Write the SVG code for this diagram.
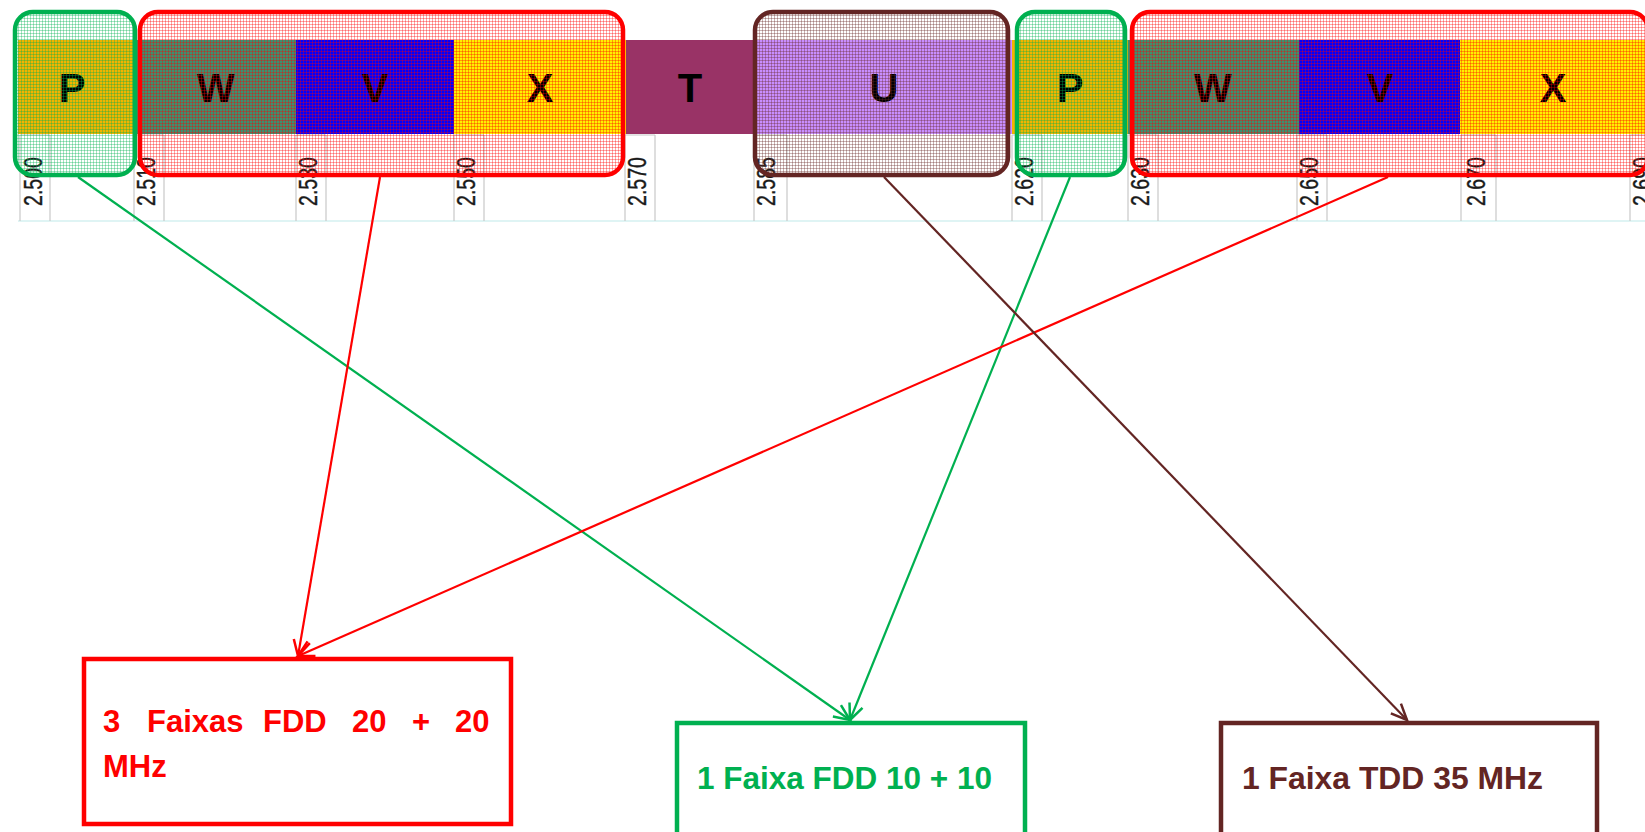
<svg xmlns="http://www.w3.org/2000/svg" width="1645" height="832" viewBox="0 0 1645 832">
<style>
.tick{stroke:#c8c8c8;stroke-width:1.2;fill:none}
.tl{font-family:"Liberation Sans",Arial,sans-serif;font-size:25px;fill:#1a1a1a;stroke:#1a1a1a;stroke-width:0.4}
.big{font-family:"Liberation Sans",Arial,sans-serif;font-size:40px;font-weight:bold;text-anchor:middle;fill:#000}
.lbl{font-family:"Liberation Sans",Arial,sans-serif;font-size:31px;font-weight:bold}
.cn{fill:none;stroke-width:2.2}
</style>
<defs>
<pattern id="hr" width="3" height="3" patternUnits="userSpaceOnUse"><path d="M0 0.5H3M0.5 0V3" stroke="#ff0000" stroke-opacity="0.35"/></pattern>
<pattern id="hg" width="3" height="3" patternUnits="userSpaceOnUse"><path d="M0 0.5H3M0.5 0V3" stroke="#00b050" stroke-opacity="0.35"/></pattern>
<pattern id="hb" width="3" height="3" patternUnits="userSpaceOnUse"><path d="M0 0.5H3M0.5 0V3" stroke="#632523" stroke-opacity="0.35"/></pattern>
<marker id="ar" markerUnits="userSpaceOnUse" markerWidth="24" markerHeight="24" viewBox="-18 -12 24 24" refX="0" refY="0" orient="auto"><path d="M-16,-7 L0,0 L-16,7" fill="none" stroke="#ff0000" stroke-width="2.5"/></marker>
<marker id="ag" markerUnits="userSpaceOnUse" markerWidth="24" markerHeight="24" viewBox="-18 -12 24 24" refX="0" refY="0" orient="auto"><path d="M-16,-7 L0,0 L-16,7" fill="none" stroke="#00b050" stroke-width="2.5"/></marker>
<marker id="ab" markerUnits="userSpaceOnUse" markerWidth="24" markerHeight="24" viewBox="-18 -12 24 24" refX="0" refY="0" orient="auto"><path d="M-16,-7 L0,0 L-16,7" fill="none" stroke="#632523" stroke-width="2.5"/></marker>
</defs>
<rect width="1645" height="832" fill="#fff"/>
<g id="scale">
<line x1="18" y1="221" x2="1645" y2="221" stroke="#dff4f4" stroke-width="2"/>
<path class="tick" d="M20 135V221M50 135V221M20 135H50 M134 135V221M164 135V221M134 135H164 M296 135V221M326 135V221M296 135H326 M454 135V221M484 135V221M454 135H484 M625 135V221M655 135V221M625 135H655 M754 135V221M787 135V221M754 135H787 M1012 135V221M1042 135V221M1012 135H1042 M1128 135V221M1158 135V221M1128 135H1158 M1297 135V221M1327 135V221M1297 135H1327 M1461 135V221M1496 135V221M1461 135H1496 M1630 135V221M1645 135H1630"/>
<text class="tl" transform="translate(42,206) rotate(-90)" textLength="49" lengthAdjust="spacingAndGlyphs">2.500</text>
<text class="tl" transform="translate(155,206) rotate(-90)" textLength="49" lengthAdjust="spacingAndGlyphs">2.510</text>
<text class="tl" transform="translate(317,206) rotate(-90)" textLength="49" lengthAdjust="spacingAndGlyphs">2.530</text>
<text class="tl" transform="translate(475,206) rotate(-90)" textLength="49" lengthAdjust="spacingAndGlyphs">2.550</text>
<text class="tl" transform="translate(646,206) rotate(-90)" textLength="49" lengthAdjust="spacingAndGlyphs">2.570</text>
<text class="tl" transform="translate(775,206) rotate(-90)" textLength="49" lengthAdjust="spacingAndGlyphs">2.585</text>
<text class="tl" transform="translate(1033,206) rotate(-90)" textLength="49" lengthAdjust="spacingAndGlyphs">2.620</text>
<text class="tl" transform="translate(1149,206) rotate(-90)" textLength="49" lengthAdjust="spacingAndGlyphs">2.630</text>
<text class="tl" transform="translate(1318,206) rotate(-90)" textLength="49" lengthAdjust="spacingAndGlyphs">2.650</text>
<text class="tl" transform="translate(1485,206) rotate(-90)" textLength="49" lengthAdjust="spacingAndGlyphs">2.670</text>
<text class="tl" transform="translate(1651,206) rotate(-90)" textLength="49" lengthAdjust="spacingAndGlyphs">2.690</text>
</g>
<g id="band">
<rect x="18" y="40" width="119" height="94" fill="#f2b400"/>
<rect x="137" y="40" width="159" height="94" fill="#3c9070"/>
<rect x="296" y="40" width="158" height="94" fill="#0000ff"/>
<rect x="454" y="40" width="172" height="94" fill="#fff000"/>
<rect x="626" y="40" width="129" height="94" fill="#993366"/>
<rect x="755" y="40" width="257" height="94" fill="#c88eff"/>
<rect x="1012" y="40" width="116" height="94" fill="#f2b400"/>
<rect x="1128" y="40" width="171" height="94" fill="#3c9070"/>
<rect x="1299" y="40" width="161" height="94" fill="#0000ff"/>
<rect x="1460" y="40" width="185" height="94" fill="#fff000"/>
<text class="big" x="72" y="102">P</text>
<text class="big" x="216" y="102">W</text>
<text class="big" x="375" y="102">V</text>
<text class="big" x="540" y="102">X</text>
<text class="big" x="690" y="102">T</text>
<text class="big" x="884" y="102">U</text>
<text class="big" x="1070" y="102">P</text>
<text class="big" x="1213" y="102">W</text>
<text class="big" x="1380" y="102">V</text>
<text class="big" x="1553" y="102">X</text>
</g>
<g id="group-p1"><rect x="15" y="12" width="120" height="163" rx="18" fill="url(#hg)" stroke="#00b050" stroke-width="4.5"/></g>
<g id="group-wvx1"><rect x="140" y="12" width="483" height="163" rx="18" fill="url(#hr)" stroke="#ff0000" stroke-width="4.5"/></g>
<g id="group-u"><rect x="755" y="12" width="253" height="163" rx="18" fill="url(#hb)" stroke="#632523" stroke-width="4.5"/></g>
<g id="group-p2"><rect x="1017" y="12" width="108" height="163" rx="18" fill="url(#hg)" stroke="#00b050" stroke-width="4.5"/></g>
<g id="group-wvx2"><rect x="1132" y="12" width="516" height="163" rx="18" fill="url(#hr)" stroke="#ff0000" stroke-width="4.5"/></g>
<g id="connectors">
<line class="cn" x1="78" y1="177" x2="850" y2="720" stroke="#00b050" marker-end="url(#ag)"/>
<line class="cn" x1="1070" y1="177" x2="850" y2="720" stroke="#00b050" marker-end="url(#ag)"/>
<line class="cn" x1="380" y1="177" x2="298" y2="656" stroke="#ff0000" marker-end="url(#ar)"/>
<line class="cn" x1="1388" y1="177" x2="298" y2="656" stroke="#ff0000" marker-end="url(#ar)"/>
<line class="cn" x1="884" y1="177" x2="1407" y2="720" stroke="#632523" marker-end="url(#ab)"/>
</g>
<g id="fdd-3">
<rect x="84" y="659" width="427" height="165" fill="#fff" stroke="#ff0000" stroke-width="4.5"/>
<text class="lbl" fill="#ff0000" y="732"><tspan x="103">3</tspan><tspan x="147">Faixas</tspan><tspan x="263">FDD</tspan><tspan x="352">20</tspan><tspan x="412">+</tspan><tspan x="455">20</tspan></text>
<text class="lbl" fill="#ff0000" x="103" y="777">MHz</text>
</g>
<g id="fdd-1">
<rect x="677" y="723" width="348" height="130" fill="#fff" stroke="#00b050" stroke-width="4.5"/>
<text class="lbl" fill="#00b050" x="697" y="789" textLength="295" lengthAdjust="spacingAndGlyphs">1 Faixa FDD 10 + 10</text>
</g>
<g id="tdd-1">
<rect x="1221" y="723" width="376" height="130" fill="#fff" stroke="#632523" stroke-width="4.5"/>
<text class="lbl" fill="#632523" x="1242" y="789" textLength="301" lengthAdjust="spacingAndGlyphs">1 Faixa TDD 35 MHz</text>
</g>
</svg>
